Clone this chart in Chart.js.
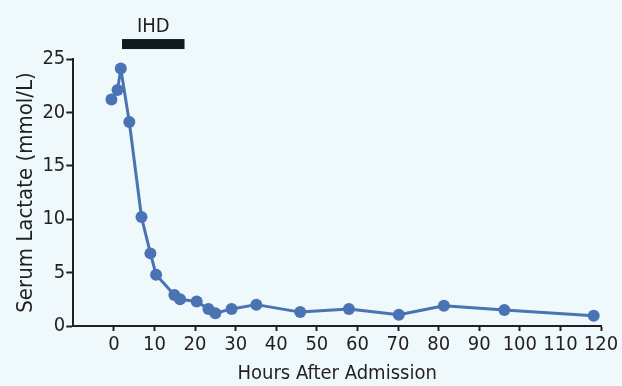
<!DOCTYPE html>
<html>
<head>
<meta charset="utf-8">
<script src="https://cdn.jsdelivr.net/npm/chart.js@4/dist/chart.umd.min.js"></script>
<style>
  html, body { margin: 0; padding: 0; background: #eff8fb; }
  #wrap { width: 622px; height: 386px; }
</style>
</head>
<body>
<div id="wrap"><canvas id="lactate-chart" width="622" height="386"></canvas></div>
<script>
// Hours after admission and serum lactate readings (mmol/L)
const hours = [-0.6, 0.9, 1.7, 3.8, 6.8, 9.0, 10.4, 14.9, 16.3, 20.4, 23.3, 25.0, 29.0, 35.1, 45.9, 57.9, 70.2, 81.3, 96.2, 118.2];
const lactate = [21.2, 22.1, 24.1, 19.1, 10.2, 6.8, 4.8, 2.9, 2.5, 2.3, 1.6, 1.2, 1.6, 2.0, 1.3, 1.6, 1.05, 1.9, 1.5, 0.95];

// Intermittent haemodialysis period (hours)
const ihdSpan = [2, 17.4];
const ihdLabel = 'IHD';

const FONT = "'DejaVu Sans Condensed', 'Open Sans', sans-serif";
const INK = '#231f20';
const BLUE = '#4a73b3';

// Draws the black IHD bar above the plot
const ihdBar = {
  id: 'ihdBar',
  afterDraw(chart) {
    const { ctx, scales: { x, y } } = chart;
    const x0 = x.getPixelForValue(ihdSpan[0]);
    const x1 = x.getPixelForValue(ihdSpan[1]);
    const yc = y.getPixelForValue(26.4);
    ctx.save();
    ctx.fillStyle = '#111a1f';
    ctx.fillRect(x0, yc - 5, x1 - x0, 10);
    ctx.fillStyle = INK;
    ctx.font = '20px ' + FONT;
    ctx.textAlign = 'center';
    ctx.textBaseline = 'alphabetic';
    ctx.fillText(ihdLabel, (x0 + x1) / 2, 32);
    ctx.restore();
  }
};

const ctx = document.getElementById('lactate-chart');

new Chart(ctx, {
  type: 'line',
  data: {
    datasets: [{
      data: hours.map((h, i) => ({ x: h, y: lactate[i] })),
      borderColor: BLUE,
      backgroundColor: BLUE,
      borderWidth: 3,
      borderJoinStyle: 'round',
      pointRadius: 6,
      pointBorderWidth: 0,
      tension: 0,
      clip: false
    }]
  },
  options: {
    responsive: false,
    animation: false,
    layout: { padding: { top: 59, right: 21, left: 13, bottom: 0 } },
    plugins: {
      legend: { display: false },
      tooltip: { enabled: false }
    },
    scales: {
      x: {
        type: 'linear',
        min: -10,
        max: 120,
        afterBuildTicks: scale => {
          scale.ticks = scale.ticks.filter(t => t.value >= 0);
        },
        ticks: { stepSize: 10, color: INK, font: { family: FONT, size: 20 }, padding: 2, maxRotation: 0 },
        grid: { drawOnChartArea: false, tickLength: 5, tickColor: INK, tickWidth: 2 },
        border: { color: INK, width: 2 },
        title: { display: true, text: 'Hours After Admission', color: INK, font: { family: FONT, size: 20 }, padding: { top: 3, bottom: 0 } }
      },
      y: {
        min: 0,
        max: 25,
        ticks: { stepSize: 5, color: INK, font: { family: FONT, size: 20 }, padding: 1 },
        grid: { drawOnChartArea: false, tickLength: 7, tickColor: INK, tickWidth: 2 },
        border: { color: INK, width: 2 },
        title: { display: true, text: 'Serum Lactate (mmol/L)', color: INK, font: { family: FONT, size: 22 }, padding: { top: 0, bottom: 2 } }
      }
    }
  },
  plugins: [ihdBar]
});
</script>
</body>
</html>
